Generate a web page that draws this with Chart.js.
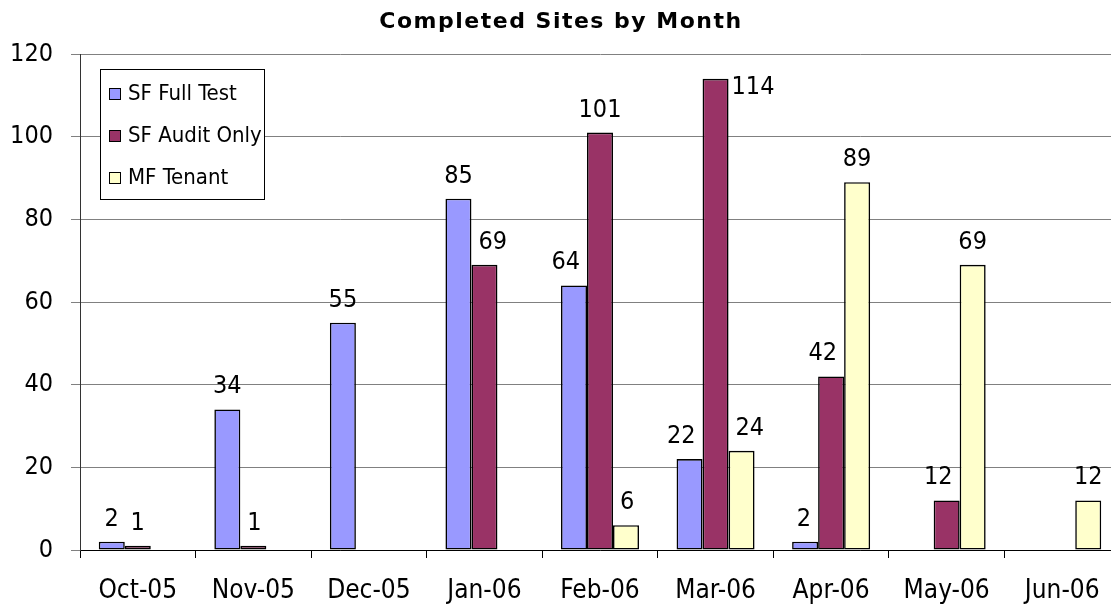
<!DOCTYPE html>
<html lang="en">
<head>
  <meta charset="UTF-8">
  <title>Completed Sites by Month</title>
  <script src="https://cdn.jsdelivr.net/npm/chart.js"></script>
  <style>
    html, body { margin: 0; padding: 0; background: #fff; overflow: hidden; }
    #wrap { width: 1125px; height: 606px; }
  </style>
</head>
<body>
  <div id="wrap">
    <canvas id="sitesChart" width="1125" height="606"></canvas>
  </div>

  <script>
    // chart data
    const months = ["Oct-05", "Nov-05", "Dec-05", "Jan-06", "Feb-06", "Mar-06", "Apr-06", "May-06", "Jun-06"];
    const sfFullTest = [2, 34, 55, 85, 64, 22, 2, 0, 0];
    const sfAuditOnly = [1, 1, 0, 69, 101, 114, 42, 12, 0];
    const mfTenant = [0, 0, 0, 0, 6, 24, 89, 69, 12];
    const yTicks = [0, 20, 40, 60, 80, 100, 120];
    const chartTitle = "Completed Sites by Month";

    const FONT = "'DejaVu Sans Condensed', 'DejaVu Sans', Verdana, sans-serif";

    // title drawn by hand so the letter spacing can be widened a little
    const titlePlugin = {
      id: "titleText",
      afterDraw(chart) {
        const ctx = chart.ctx;
        ctx.save();
        ctx.font = "bold 22px 'DejaVu Sans', Verdana, sans-serif";
        ctx.letterSpacing = "1.5px";
        ctx.fillStyle = "#000";
        ctx.textAlign = "center";
        ctx.textBaseline = "middle";
        ctx.fillText(chartTitle, 561, 22);
        ctx.restore();
      }
    };

    // value labels above each bar, zeros skipped;
    // a label is nudged sideways when a taller neighbour bar is in the way
    const valueLabels = {
      id: "valueLabels",
      afterDatasetsDraw(chart) {
        const ctx = chart.ctx;
        const area = chart.chartArea;
        const n = chart.data.datasets.length;
        const gap = 7;
        ctx.save();
        ctx.font = "25px " + FONT;
        ctx.fillStyle = "#000";
        chart.data.datasets.forEach((ds, i) => {
          const meta = chart.getDatasetMeta(i);
          meta.data.forEach((bar, j) => {
            const v = ds.data[j];
            if (!v) return;
            const txt = String(v);
            const w = ctx.measureText(txt).width;
            const base = bar.y - 16;
            if (base - 19 < area.top) {
              // no room above: put it beside the bar
              ctx.textAlign = "left";
              ctx.textBaseline = "top";
              ctx.fillText(txt, bar.x + bar.width / 2 + 3, bar.y - 4);
              return;
            }
            let x = bar.x;
            if (i + 1 < n) {
              const nb = chart.getDatasetMeta(i + 1).data[j];
              const edge = nb.x - nb.width / 2;
              if (nb.y < base && x + w / 2 > edge - gap) x = edge - gap - w / 2;
            }
            if (i > 0) {
              const pb = chart.getDatasetMeta(i - 1).data[j];
              const edge = pb.x + pb.width / 2;
              if (pb.y < base && x - w / 2 < edge + gap) x = edge + gap + w / 2;
            }
            ctx.textAlign = "center";
            ctx.textBaseline = "alphabetic";
            ctx.fillText(txt, x, base);
          });
        });
        ctx.restore();
      }
    };

    // boxed legend inside the plot, top left
    const boxLegend = {
      id: "boxLegend",
      afterDraw(chart) {
        const ctx = chart.ctx;
        const area = chart.chartArea;
        const x = area.left + 20, y = area.top + 15, w = 164, h = 130;
        ctx.save();
        ctx.fillStyle = "#fff";
        ctx.fillRect(x, y, w, h);
        ctx.strokeStyle = "#000";
        ctx.lineWidth = 1;
        ctx.strokeRect(x + 0.5, y + 0.5, w, h);
        ctx.font = "22px " + FONT;
        ctx.textBaseline = "middle";
        chart.data.datasets.forEach((ds, i) => {
          const cy = y + 24 + i * 42;
          ctx.fillStyle = ds.backgroundColor;
          ctx.fillRect(x + 9, cy - 5, 11, 11);
          ctx.strokeRect(x + 9.5, cy - 4.5, 11, 11);
          ctx.fillStyle = "#000";
          ctx.fillText(ds.label, x + 28, cy + 1);
        });
        ctx.restore();
      }
    };

    const ctx = document.getElementById("sitesChart").getContext("2d");
    new Chart(ctx, {
      type: "bar",
      data: {
        labels: months,
        datasets: [
          { label: "SF Full Test", data: sfFullTest, backgroundColor: "#9999FF" },
          { label: "SF Audit Only", data: sfAuditOnly, backgroundColor: "#993366" },
          { label: "MF Tenant", data: mfTenant, backgroundColor: "#FFFFCC" }
        ]
      },
      options: {
        responsive: false,
        animation: false,
        devicePixelRatio: 1,
        layout: { padding: { top: 54, right: 5, left: 0, bottom: 0 } },
        datasets: {
          bar: {
            categoryPercentage: 0.675,
            barPercentage: 1,
            borderColor: "#000",
            borderWidth: 1.6,
            borderSkipped: false
          }
        },
        plugins: {
          legend: { display: false },
          tooltip: { enabled: false },
          title: { display: false }
        },
        scales: {
          x: {
            grid: {
              offset: true,
              drawOnChartArea: false,
              drawTicks: true,
              tickLength: 8,
              color: "#000"
            },
            border: { color: "#000", width: 1 },
            ticks: {
              color: "#000",
              font: { family: FONT, size: 26 },
              padding: 18,
              maxRotation: 0
            },
            afterFit(scale) {
              scale.height = 56;
              scale.paddingLeft = 0;
              scale.paddingRight = 0;
            }
          },
          y: {
            min: yTicks[0],
            max: yTicks[yTicks.length - 1],
            afterBuildTicks(scale) {
              scale.ticks = yTicks.map(v => ({ value: v }));
            },
            grid: {
              color: "#808080",
              tickLength: 9,
              lineWidth: 1
            },
            border: { color: "#333", width: 1 },
            ticks: {
              color: "#000",
              font: { family: FONT, size: 25 },
              padding: 18
            },
            afterFit(scale) {
              scale.width = 80;
              scale.paddingTop = 0;
              scale.paddingBottom = 0;
            }
          }
        }
      },
      plugins: [valueLabels, boxLegend, titlePlugin]
    });
  </script>
</body>
</html>
